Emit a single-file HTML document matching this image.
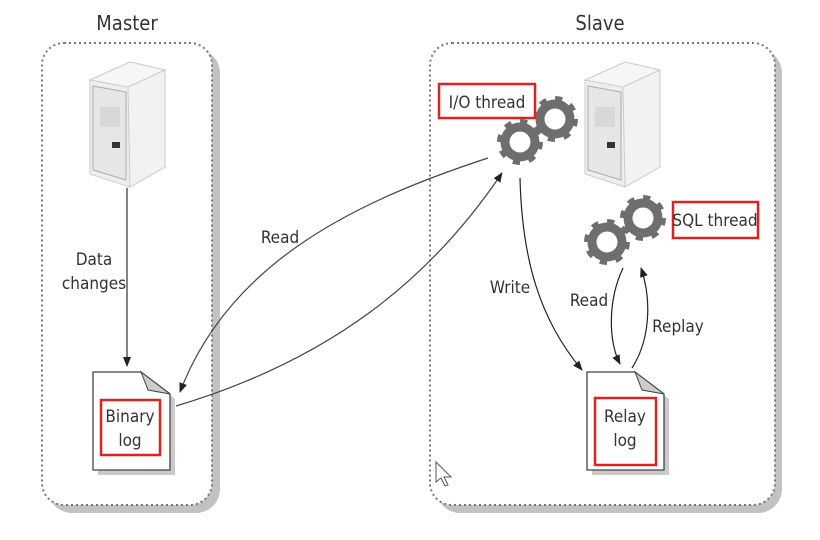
<!DOCTYPE html>
<html><head><meta charset="utf-8"><style>
html,body{margin:0;padding:0;background:#fff;}
svg{display:block;font-family:"DejaVu Sans Condensed","Liberation Sans",sans-serif;}
</style></head><body>
<svg width="820" height="540" viewBox="0 0 820 540" xmlns="http://www.w3.org/2000/svg">
<defs>
<marker id="ah" markerWidth="10" markerHeight="10" refX="9" refY="5" orient="auto" markerUnits="userSpaceOnUse">
<path d="M0,1 L10,5 L0,9 z" fill="#222"/></marker>
<g id="gear">
<circle r="15" fill="none" stroke="#6e6e6e" stroke-width="9"/>
<circle r="20" fill="none" stroke="#6e6e6e" stroke-width="6" stroke-dasharray="7 8.7"/>
</g>
<g id="server">
<path d="M0,18 L40,0 L75,8 L75,105 L40,125 L0,112 z" fill="#eee" stroke="#ccc"/>
<path d="M0,18 L40,0 L75,8 L38,25 z" fill="#f6f6f6" stroke="#ccc"/>
<path d="M38,25 L75,8 L75,105 L40,125 z" fill="#f2f2f2" stroke="#ccc"/>
<path d="M3,24 L36,30 L36,118 L3,108 z" fill="#e6e6e6" stroke="#aaa"/>
<rect x="10" y="45" width="20" height="20" fill="#d8d8d8"/>
<rect x="22" y="80" width="8" height="6" fill="#333"/>
</g>
<g id="doc">
<path d="M0,0 L48,0 L77,22 L77,98 L0,98 z" fill="#666" transform="translate(5,5)" opacity="0.35"/>
<path d="M0,0 L48,0 L77,22 L77,98 L0,98 z" fill="#fff" stroke="#444" stroke-width="1.3"/>
<path d="M48,0 L55,18 L77,22 z" fill="#ccc" stroke="#444" stroke-width="1"/>
</g>
</defs>
<!-- shadows -->
<rect x="48" y="49" width="172" height="464" rx="24" fill="#999" opacity="0.6"/>
<rect x="436" y="49" width="346" height="464" rx="24" fill="#999" opacity="0.6"/>
<rect x="42" y="43" width="170" height="462" rx="22" fill="#fff" stroke="#777" stroke-width="2" stroke-dasharray="2 3"/>
<rect x="430" y="43" width="345" height="462" rx="22" fill="#fff" stroke="#777" stroke-width="2" stroke-dasharray="2 3"/>
<text x="127" y="30" font-size="20" text-anchor="middle" fill="#333">Master</text>
<text x="600" y="30" font-size="20" text-anchor="middle" fill="#333">Slave</text>
<use href="#server" x="90" y="62"/>
<use href="#server" x="585" y="62"/>
<line x1="127" y1="188" x2="127" y2="366" stroke="#333" stroke-width="1.2" marker-end="url(#ah)"/>
<text x="94" y="265" font-size="17" text-anchor="middle" fill="#333">Data</text>
<text x="94" y="289" font-size="17" text-anchor="middle" fill="#333">changes</text>
<use href="#doc" x="93" y="372"/>
<rect x="101" y="400" width="59" height="55" fill="none" stroke="#d22" stroke-width="2.5"/>
<text x="130" y="422" font-size="17" text-anchor="middle" fill="#333">Binary</text>
<text x="130" y="446" font-size="17" text-anchor="middle" fill="#333">log</text>
<use href="#doc" x="587" y="372"/>
<rect x="595" y="398" width="61" height="67" fill="none" stroke="#d22" stroke-width="2.5"/>
<text x="625" y="422" font-size="17" text-anchor="middle" fill="#333">Relay</text>
<text x="625" y="446" font-size="17" text-anchor="middle" fill="#333">log</text>
<use href="#gear" x="520" y="142"/>
<use href="#gear" x="555" y="119"/>
<use href="#gear" x="607" y="242"/>
<use href="#gear" x="643" y="218"/>
<rect x="439" y="84" width="96" height="34" fill="#fff" stroke="#d22" stroke-width="2.5"/>
<text x="487" y="108" font-size="17" text-anchor="middle" fill="#333">I/O thread</text>
<rect x="673" y="202" width="85" height="36" fill="#fff" stroke="#d22" stroke-width="2.5"/>
<text x="715" y="226" font-size="17" text-anchor="middle" fill="#333">SQL thread</text>
<path d="M488,158 C360,200 230,260 180,392" fill="none" stroke="#444" stroke-width="1.2" marker-end="url(#ah)"/>
<path d="M176,406 C330,360 430,280 502,173" fill="none" stroke="#444" stroke-width="1.2" marker-end="url(#ah)"/>
<text x="280" y="243" font-size="17" text-anchor="middle" fill="#333">Read</text>
<path d="M520,178 C522,260 540,320 582,370" fill="none" stroke="#222" stroke-width="1.2" marker-end="url(#ah)"/>
<text x="510" y="293" font-size="17" text-anchor="middle" fill="#333">Write</text>
<path d="M623,268 C608,300 608,340 620,364" fill="none" stroke="#222" stroke-width="1.2" marker-end="url(#ah)"/>
<path d="M632,368 C650,340 652,300 641,268" fill="none" stroke="#222" stroke-width="1.2" marker-end="url(#ah)"/>
<text x="589" y="306" font-size="17" text-anchor="middle" fill="#333">Read</text>
<text x="678" y="332" font-size="17" text-anchor="middle" fill="#333">Replay</text>
<path d="M436,462 L436,482 L441,478 L445,486 L448,485 L444,477 L451,477 z" fill="#fff" stroke="#555" stroke-width="1"/>
</svg>
</body></html>
